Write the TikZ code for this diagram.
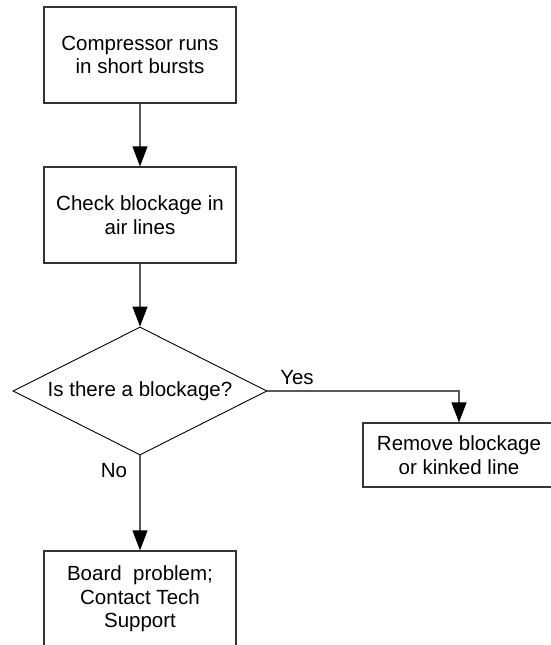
\documentclass[tikz,border=0pt]{standalone}
\usepackage{fontspec}
\setmainfont{Liberation Sans}
\usetikzlibrary{shapes.geometric,arrows.meta}
\begin{document}
\begin{tikzpicture}[x=1pt,y=-1pt,
  txt/.style={font=\fontsize{20.5}{23.5}\selectfont},
  box/.style={txt, draw=black!80, line width=1.2pt, minimum width=192pt, minimum height=96pt, inner sep=0pt, align=center},
  dec/.style={txt, draw=black, line width=0.9pt, shape=diamond, aspect=2, minimum width=254pt, minimum height=128pt, inner sep=0pt},
  conn/.style={draw=black!65, line width=1.2pt, -{Triangle[length=20pt,width=15pt,color=black]}},
  lbl/.style={txt, inner sep=0pt}]
\useasboundingbox (0,0) rectangle (550,645);
\node[box] (b1) at (140,55) {Compressor runs\\in short bursts};
\node[box] (b2) at (140,215) {Check blockage in\\air lines};
\node[dec] (d) at (140,391) {Is there a blockage?};
\node[box, minimum height=64pt] (b3) at (459,455) {Remove blockage\\or kinked line};
\node[box] (b4) at (140,599) {Board\ \ problem;\\Contact Tech\\Support};
\draw[conn] (b1) -- (b2);
\draw[conn] (b2) -- (d);
\draw[conn] (d.east) -| (b3.north);
\draw[conn] (d.south) -- (b4.north);
\node[lbl] (yes) at (297,378) {Yes};
\node[lbl] (no) at (114,471) {No};
\end{tikzpicture}
\end{document}
